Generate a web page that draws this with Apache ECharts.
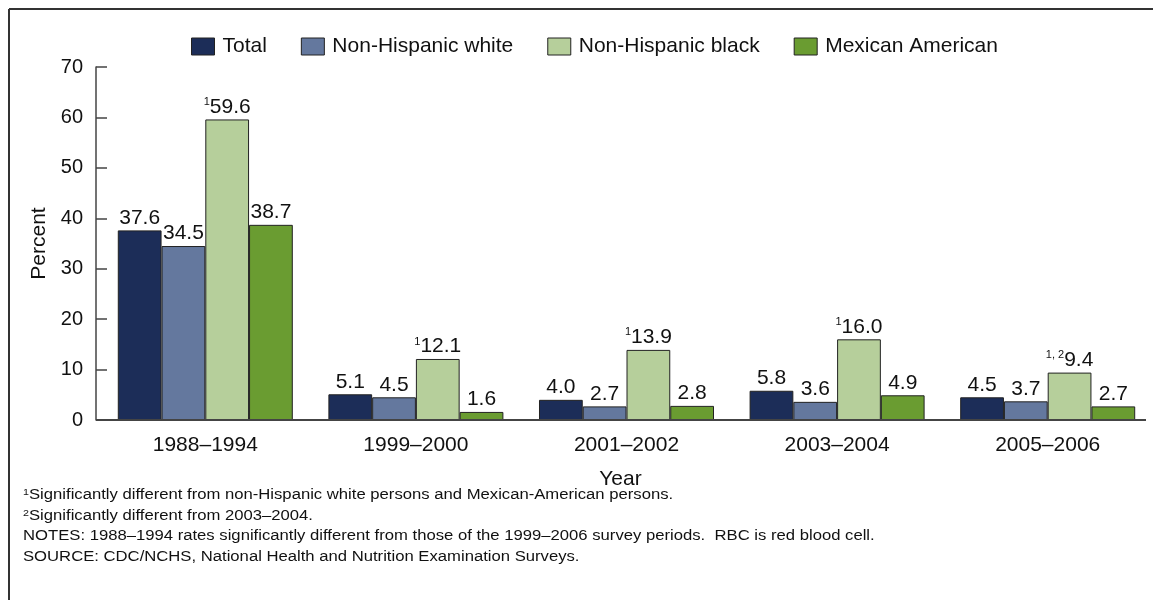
<!DOCTYPE html>
<html>
<head>
<meta charset="utf-8">
<script src="https://cdn.jsdelivr.net/npm/echarts@6/dist/echarts.min.js"></script>
<style>
html,body{margin:0;padding:0;background:#fff;}
#chart{width:1153px;height:600px;}
</style>
</head>
<body>
<div id="chart"></div>
<script>
const categories = ['1988–1994', '1999–2000', '2001–2002', '2003–2004', '2005–2006'];
const seriesNames = ['Total', 'Non-Hispanic white', 'Non-Hispanic black', 'Mexican American'];
const totalValues = [37.6, 5.1, 4.0, 5.8, 4.5];
const whiteValues = [34.5, 4.5, 2.7, 3.6, 3.7];
const blackValues = [59.6, 12.1, 13.9, 16.0, 9.4];
const mexicanValues = [38.7, 1.6, 2.8, 4.9, 2.7];
const blackNotes = ['1', '1', '1', '1', '1, 2'];
const yTicks = [0, 10, 20, 30, 40, 50, 60, 70];
const colors = ['#1c2d58', '#64789e', '#b6cf9b', '#6a9c31'];
const footnotes = [
  '{s|1}Significantly different from non-Hispanic white persons and Mexican-American persons.',
  '{s|2}Significantly different from 2003–2004.',
  'NOTES: 1988–1994 rates significantly different from those of the 1999–2006 survey periods.  RBC is red blood cell.',
  'SOURCE: CDC/NCHS, National Health and Nutrition Examination Surveys.'
];

const FONT = '"Liberation Sans", Arial, Helvetica, sans-serif';
const chart = echarts.init(document.getElementById('chart'));

const valueRich = {
  v: {fontSize: 21, color: '#111', fontFamily: FONT},
  s: {fontSize: 11, color: '#111', fontFamily: FONT, verticalAlign: 'top', padding: [0, 0, 9, 0]}
};

function makeSeries(idx, values, notes) {
  return {
    name: seriesNames[idx],
    type: 'bar',
    data: values,
    barGap: '0%',
    barCategoryGap: '16.9%',
    itemStyle: {color: colors[idx], borderColor: '#222', borderWidth: 1},
    label: {
      show: true,
      position: 'top',
      distance: 2,
      formatter: function (p) {
        const txt = p.value.toFixed(1);
        if (notes) return '{s|' + notes[p.dataIndex] + '}{v|' + txt + '}';
        return '{v|' + txt + '}';
      },
      rich: valueRich
    }
  };
}

chart.setOption({
  animation: false,
  backgroundColor: '#fff',
  textStyle: {fontFamily: FONT, color: '#111'},
  legend: {
    top: 31,
    left: 186,
    itemWidth: 23,
    itemHeight: 17,
    itemGap: 34,
    icon: 'rect',
    textStyle: {fontSize: 21, color: '#111', fontFamily: FONT, padding: [0, 0, 0, 3]},
    data: seriesNames.map((n, i) => ({name: n, itemStyle: {color: colors[i], borderColor: '#222', borderWidth: 1}}))
  },
  grid: {left: 100, right: 0, top: 67, bottom: 180, containLabel: false},
  xAxis: {
    type: 'category',
    data: categories,
    name: 'Year',
    nameLocation: 'middle',
    nameGap: 49,
    nameTextStyle: {fontSize: 21, color: '#111', fontFamily: FONT, padding: [0, 12, 0, 0]},
    axisLine: {show: false},
    axisTick: {show: false},
    axisLabel: {fontSize: 21, color: '#111', margin: 15, fontFamily: FONT}
  },
  yAxis: {
    type: 'value',
    min: 0,
    max: 70,
    interval: 10,
    offset: 4,
    name: 'Percent',
    nameLocation: 'middle',
    nameGap: 46,
    nameTextStyle: {fontSize: 21, color: '#111', fontFamily: FONT},
    axisLine: {show: true, lineStyle: {color: '#444', width: 1.5}},
    axisTick: {show: true, inside: true, length: 11, lineStyle: {color: '#444', width: 1.5}},
    splitLine: {show: false},
    axisLabel: {fontSize: 20, color: '#111', margin: 13, fontFamily: FONT,
      formatter: v => yTicks.includes(v) ? String(v) : ''}
  },
  series: [
    makeSeries(0, totalValues),
    makeSeries(1, whiteValues),
    makeSeries(2, blackValues, blackNotes),
    makeSeries(3, mexicanValues)
  ],
  graphic: [
    {type: 'line', shape: {x1: 9, y1: 9, x2: 1153, y2: 9}, style: {stroke: '#333', lineWidth: 2}},
    {type: 'line', shape: {x1: 9, y1: 9, x2: 9, y2: 600}, style: {stroke: '#333', lineWidth: 2}},
    {type: 'line', shape: {x1: 96, y1: 420, x2: 1146, y2: 420}, style: {stroke: '#444', lineWidth: 2}, z: 10}
  ].concat(footnotes.map((t, i) => ({
    type: 'text',
    x: 23,
    y: 495 + i * 20.8,
    scaleX: 1.19,
    style: {
      text: t,
      fontSize: 14,
      fill: '#111',
      fontFamily: FONT,
      verticalAlign: 'middle',
      rich: {s: {fontSize: 9, fill: '#111', verticalAlign: 'top', padding: [0, 0, 5, 0]}}
    }
  })))
});
</script>
</body>
</html>
